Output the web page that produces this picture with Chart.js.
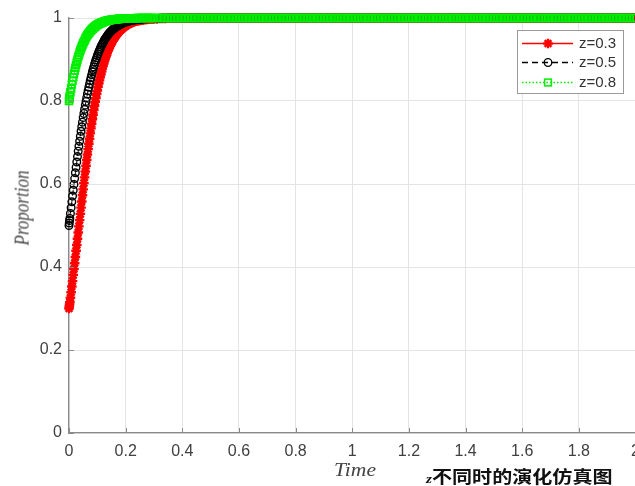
<!DOCTYPE html>
<html><head><meta charset="utf-8">
<script src="https://cdn.jsdelivr.net/npm/chart.js@4.4.1/dist/chart.umd.min.js"></script>
<style>
html,body{margin:0;padding:0;background:#fff;overflow:hidden;width:635px;height:486px;}
#wrap{position:relative;width:649px;height:486px;}
#c{position:absolute;left:0;top:0;}
.lbl{position:absolute;white-space:nowrap;line-height:1;}
#ylab{font-family:"Liberation Serif","DejaVu Serif",serif;font-style:italic;font-size:17px;color:#444;left:22px;top:208px;transform:translate(-50%,-50%) rotate(-90deg) scaleY(1.2);}
#xlab{font-family:"Liberation Serif","DejaVu Serif",serif;font-style:italic;font-size:18px;color:#444;left:355px;top:470px;transform:translate(-50%,-50%) scaleX(1.2);}
#cap{font-family:"Noto Sans CJK SC",sans-serif;font-weight:bold;font-size:17px;color:#111;left:426px;top:467px;transform-origin:left center;transform:scaleX(1.18);}
#cap i{font-family:"Liberation Serif",serif;font-size:13px;font-weight:bold;}
</style>
</head><body>
<div id="wrap">
<canvas id="c" width="649" height="486"></canvas>
<div class="lbl" id="ylab">Proportion</div>
<div class="lbl" id="xlab">Time</div>
<div class="lbl" id="cap"><i>z</i>不同时的演化仿真图</div>
</div>
<script>
const seriesNames = ["z=0.3", "z=0.5", "z=0.8"];
const xTicks = [0, 0.2, 0.4, 0.6, 0.8, 1, 1.2, 1.4, 1.6, 1.8, 2];
const yTicks = [0, 0.2, 0.4, 0.6, 0.8, 1];

const times = [
0,0.001,0.002,0.003,0.005,0.0075,0.01,
0.0125,0.015,0.0175,0.02,0.0225,0.025,0.0275,0.03,0.0325,0.035,
0.0375,0.04,0.0425,0.045,0.0475,0.05,0.0525,0.055,0.0575,0.06,
0.0625,0.065,0.0675,0.07,0.0725,0.075,0.0775,0.08,0.0825,0.085,
0.0875,0.09,0.0925,0.095,0.0975,0.1,0.1025,0.105,0.1075,0.11,
0.1125,0.115,0.1175,0.12,0.1225,0.125,0.1275,0.13,0.1325,0.135,
0.1375,0.14,0.1425,0.145,0.1475,0.15,0.1525,0.155,0.1575,0.16,
0.1625,0.165,0.1675,0.17,0.1725,0.175,0.1775,0.18,0.1825,0.185,
0.1875,0.19,0.1925,0.195,0.1975,0.2,
0.205,0.21,0.215,0.22,0.225,0.23,0.235,0.24,0.245,0.25,
0.255,0.26,0.265,0.27,0.275,0.28,0.285,0.29,0.295,0.3,
0.31,0.32,0.33,0.34,0.35,0.36,0.37,0.38,0.39,0.4,
0.41,0.42,0.43,0.44,0.45,0.46,0.47,0.48,0.49,0.5,
0.51,0.52,0.53,0.54,0.55,0.56,0.57,0.58,0.59,0.6,
0.61,0.62,0.63,0.64,0.65,0.66,0.67,0.68,0.69,0.7,
0.71,0.72,0.73,0.74,0.75,0.76,0.77,0.78,0.79,0.8,
0.81,0.82,0.83,0.84,0.85,0.86,0.87,0.88,0.89,0.9,
0.91,0.92,0.93,0.94,0.95,0.96,0.97,0.98,0.99,1,
1.01,1.02,1.03,1.04,1.05,1.06,1.07,1.08,1.09,1.1,
1.11,1.12,1.13,1.14,1.15,1.16,1.17,1.18,1.19,1.2,
1.21,1.22,1.23,1.24,1.25,1.26,1.27,1.28,1.29,1.3,
1.31,1.32,1.33,1.34,1.35,1.36,1.37,1.38,1.39,1.4,
1.41,1.42,1.43,1.44,1.45,1.46,1.47,1.48,1.49,1.5,
1.51,1.52,1.53,1.54,1.55,1.56,1.57,1.58,1.59,1.6,
1.61,1.62,1.63,1.64,1.65,1.66,1.67,1.68,1.69,1.7,
1.71,1.72,1.73,1.74,1.75,1.76,1.77,1.78,1.79,1.8,
1.81,1.82,1.83,1.84,1.85,1.86,1.87,1.88,1.89,1.9,
1.91,1.92,1.93,1.94,1.95,1.96,1.97,1.98,1.99,2
];

const z03 = [
0.300,0.305,0.310,0.315,0.326,0.339,0.353,
0.366,0.381,0.395,0.409,0.424,0.439,0.453,0.468,0.483,0.498,
0.513,0.528,0.543,0.558,0.573,0.587,0.602,0.616,0.630,0.644,
0.658,0.671,0.684,0.697,0.709,0.722,0.734,0.745,0.756,0.767,
0.778,0.788,0.798,0.807,0.817,0.825,0.834,0.842,0.850,0.857,
0.864,0.871,0.878,0.884,0.890,0.896,0.901,0.907,0.9115,0.916,
0.921,0.925,0.929,0.933,0.937,0.940,0.943,0.947,0.9495,0.952,
0.955,0.957,0.960,0.962,0.964,0.966,0.968,0.970,0.9716,0.973,
0.9748,0.976,0.9775,0.979,0.980,0.981,
0.983,0.985,0.987,0.988,0.990,0.991,0.992,0.993,0.9935,0.994,
0.995,0.9955,0.996,0.9964,0.9968,0.997,0.9975,0.998,0.998,0.998,
0.998,0.999,0.999,0.999,1,1,1,1,1,1,
1,1,1,1,1,1,1,1,1,1,
1,1,1,1,1,1,1,1,1,1,
1,1,1,1,1,1,1,1,1,1,
1,1,1,1,1,1,1,1,1,1,
1,1,1,1,1,1,1,1,1,1,
1,1,1,1,1,1,1,1,1,1,
1,1,1,1,1,1,1,1,1,1,
1,1,1,1,1,1,1,1,1,1,
1,1,1,1,1,1,1,1,1,1,
1,1,1,1,1,1,1,1,1,1,
1,1,1,1,1,1,1,1,1,1,
1,1,1,1,1,1,1,1,1,1,
1,1,1,1,1,1,1,1,1,1,
1,1,1,1,1,1,1,1,1,1,
1,1,1,1,1,1,1,1,1,1,
1,1,1,1,1,1,1,1,1,1
];

const z05 = [
0.500,0.506,0.512,0.517,0.529,0.543,0.557,
0.571,0.585,0.599,0.613,0.627,0.640,0.653,0.666,0.679,0.691,
0.703,0.715,0.727,0.738,0.749,0.760,0.770,0.780,0.790,0.799,
0.808,0.817,0.825,0.833,0.841,0.849,0.856,0.863,0.870,0.876,
0.882,0.888,0.894,0.899,0.904,0.909,0.9135,0.918,0.922,0.926,
0.930,0.934,0.937,0.940,0.9436,0.947,0.9494,0.952,0.9547,0.957,
0.9594,0.962,0.9637,0.966,0.9675,0.969,0.9709,0.972,0.974,0.975,
0.9767,0.978,0.979,0.980,0.9814,0.982,0.9834,0.984,0.985,0.986,
0.9868,0.9875,0.9882,0.989,0.9895,0.990,
0.991,0.992,0.993,0.9937,0.9943,0.995,0.9955,0.996,0.9964,0.9968,
0.997,0.9975,0.998,0.998,0.998,0.9985,0.999,0.999,0.999,0.999,
0.999,0.999,1,1,1,1,1,1,1,1,
1,1,1,1,1,1,1,1,1,1,
1,1,1,1,1,1,1,1,1,1,
1,1,1,1,1,1,1,1,1,1,
1,1,1,1,1,1,1,1,1,1,
1,1,1,1,1,1,1,1,1,1,
1,1,1,1,1,1,1,1,1,1,
1,1,1,1,1,1,1,1,1,1,
1,1,1,1,1,1,1,1,1,1,
1,1,1,1,1,1,1,1,1,1,
1,1,1,1,1,1,1,1,1,1,
1,1,1,1,1,1,1,1,1,1,
1,1,1,1,1,1,1,1,1,1,
1,1,1,1,1,1,1,1,1,1,
1,1,1,1,1,1,1,1,1,1,
1,1,1,1,1,1,1,1,1,1,
1,1,1,1,1,1,1,1,1,1
];

const z08 = [
0.800,0.804,0.809,0.813,0.821,0.830,0.840,
0.8486,0.857,0.8652,0.873,0.880,0.887,0.8937,0.900,0.9058,0.911,
0.9167,0.922,0.9265,0.931,0.9352,0.939,0.9429,0.946,0.9497,0.953,
0.9558,0.959,0.9612,0.964,0.9659,0.968,0.970,0.972,0.9737,0.975,
0.977,0.978,0.9798,0.981,0.9823,0.9835,0.9845,0.9855,0.9865,0.987,
0.988,0.989,0.9896,0.990,0.991,0.9915,0.992,0.9926,0.993,0.9935,
0.994,0.9943,0.9947,0.995,0.9953,0.9956,0.996,0.996,0.9964,0.9967,
0.9969,0.997,0.9972,0.9975,0.9976,0.9978,0.9979,0.998,0.9982,0.9983,
0.9984,0.9985,0.9986,0.9987,0.9988,0.999,
0.999,0.999,0.999,0.999,0.9995,0.9995,0.9995,1,1,1,
1,1,1,1,1,1,1,1,1,1,
1,1,1,1,1,1,1,1,1,1,
1,1,1,1,1,1,1,1,1,1,
1,1,1,1,1,1,1,1,1,1,
1,1,1,1,1,1,1,1,1,1,
1,1,1,1,1,1,1,1,1,1,
1,1,1,1,1,1,1,1,1,1,
1,1,1,1,1,1,1,1,1,1,
1,1,1,1,1,1,1,1,1,1,
1,1,1,1,1,1,1,1,1,1,
1,1,1,1,1,1,1,1,1,1,
1,1,1,1,1,1,1,1,1,1,
1,1,1,1,1,1,1,1,1,1,
1,1,1,1,1,1,1,1,1,1,
1,1,1,1,1,1,1,1,1,1,
1,1,1,1,1,1,1,1,1,1,
1,1,1,1,1,1,1,1,1,1,
1,1,1,1,1,1,1,1,1,1
];

const pts = arr => times.map((t, i) => ({x: t, y: arr[i]}));

const styles = [
  {color:'#ff0000', dash:[], marker:'star'},
  {color:'#000000', dash:[6,4], marker:'circle'},
  {color:'#00ee00', dash:[1.5,2], marker:'rect'}
];

function drawMarker(ctx, type, x, y, color) {
  ctx.save();
  ctx.strokeStyle = color; ctx.fillStyle = color; ctx.setLineDash([]);
  if (type === 'star') {
    ctx.lineWidth = 2.4;
    const r = 4.8;
    ctx.beginPath();
    for (let k = 0; k < 4; k++) {
      const a = k * Math.PI / 4;
      ctx.moveTo(x - r*Math.cos(a), y - r*Math.sin(a));
      ctx.lineTo(x + r*Math.cos(a), y + r*Math.sin(a));
    }
    ctx.stroke();
  } else if (type === 'circle') {
    ctx.lineWidth = 1.3;
    ctx.beginPath(); ctx.arc(x, y, 3.8, 0, Math.PI*2); ctx.stroke();
  } else {
    ctx.lineWidth = 1.5;
    ctx.strokeRect(x - 3.4, y - 3.4, 6.8, 6.8);
  }
  ctx.restore();
}

const extras = {
  id: 'extras',
  afterDraw(chart) {
    const ctx = chart.ctx;
    const xs = chart.scales.x, ys = chart.scales.y;
    const a = chart.chartArea;
    ctx.save();
    ctx.strokeStyle = '#8a8a8a'; ctx.lineWidth = 1;
    xTicks.forEach(v => {
      const px = Math.round(xs.getPixelForValue(v)) + 0.5;
      ctx.beginPath(); ctx.moveTo(px, a.bottom); ctx.lineTo(px, a.bottom - 5); ctx.stroke();
    });
    yTicks.forEach(v => {
      const py = Math.round(ys.getPixelForValue(v)) + 0.5;
      ctx.beginPath(); ctx.moveTo(a.left, py); ctx.lineTo(a.left + 5, py); ctx.stroke();
    });
    // legend
    const bx = 517.5, by = 30.5, bw = 106, bh = 63;
    ctx.fillStyle = '#ffffff'; ctx.fillRect(bx, by, bw, bh);
    ctx.strokeStyle = '#9a9a9a'; ctx.lineWidth = 1; ctx.strokeRect(bx, by, bw, bh);
    const rows = [43, 62, 82];
    ctx.font = '15px "Liberation Sans", Arial, sans-serif';
    ctx.textBaseline = 'middle';
    seriesNames.forEach((name, i) => {
      const s = styles[i], y = rows[i];
      ctx.save();
      ctx.strokeStyle = s.color; ctx.lineWidth = 1.5; ctx.setLineDash(s.dash);
      ctx.beginPath(); ctx.moveTo(522, y + 0.5); ctx.lineTo(573, y + 0.5); ctx.stroke();
      ctx.restore();
      drawMarker(ctx, s.marker, 548, y + 0.5, s.color);
      ctx.fillStyle = '#333333';
      ctx.fillText(name, 579, y + 1);
    });
    ctx.restore();
  }
};

const tickFont = {family: '"Liberation Sans", Arial, sans-serif', size: 16};
const fmt = v => String(+Number(v).toFixed(1));

new Chart(document.getElementById('c'), {
  type: 'line',
  data: {
    datasets: [
      {label: seriesNames[0], data: pts(z03), order: 3, clip: false,
       borderColor: styles[0].color, borderWidth: 1.2, tension: 0,
       pointStyle: 'star', pointRadius: 4.8, pointBorderWidth: 2.4,
       pointBorderColor: styles[0].color, pointBackgroundColor: styles[0].color},
      {label: seriesNames[1], data: pts(z05), order: 2, clip: false,
       borderColor: styles[1].color, borderWidth: 1, borderDash: styles[1].dash, tension: 0,
       pointStyle: 'circle', pointRadius: 3.8, pointBorderWidth: 1.4,
       pointBorderColor: styles[1].color, pointBackgroundColor: 'rgba(0,0,0,0)'},
      {label: seriesNames[2], data: pts(z08), order: 1, clip: false,
       borderColor: styles[2].color, borderWidth: 1, borderDash: styles[2].dash, tension: 0,
       pointStyle: 'rect', pointRadius: 4.9, pointBorderWidth: 1.6,
       pointBorderColor: styles[2].color, pointBackgroundColor: 'rgba(0,0,0,0)'}
    ]
  },
  options: {
    responsive: false, animation: false, events: [],
    layout: {padding: {left: 0, right: 10, top: 18, bottom: 0}},
    plugins: {legend: {display: false}, tooltip: {enabled: false}},
    scales: {
      x: {type: 'linear', min: 0, max: 2,
          afterFit(s) { s.height = 53; },
          afterBuildTicks(s) { s.ticks = xTicks.map(v => ({value: v})); },
          ticks: {padding: 9, color: '#404040', font: tickFont, callback: fmt, maxRotation: 0, autoSkip: false},
          grid: {color: '#e4e4e4', drawTicks: false},
          border: {color: '#8a8a8a', width: 1.3}},
      y: {type: 'linear', min: 0, max: 1,
          afterFit(s) { s.width = 69; },
          afterBuildTicks(s) { s.ticks = yTicks.map(v => ({value: v})); },
          ticks: {padding: 7, color: '#404040', font: tickFont, callback: fmt},
          grid: {color: '#e4e4e4', drawTicks: false},
          border: {color: '#8a8a8a', width: 1.3}}
    }
  },
  plugins: [extras]
});
</script>
</body></html>
